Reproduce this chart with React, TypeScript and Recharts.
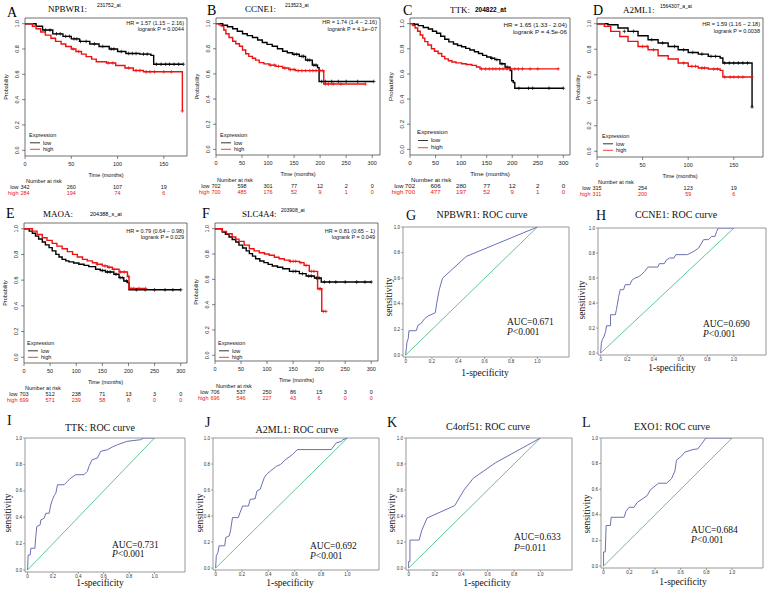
import React from "react";
import { ComposedChart, Line, Scatter, XAxis, YAxis, ReferenceArea } from "recharts";

type Pt = [number, number];

const SERIF = '"Liberation Serif", "Times New Roman", Times, serif';
const SANS = '"Liberation Sans", Arial, Helvetica, sans-serif';
const RED = "#ee1111";
const ROC_BLUE = "#6b70b4";
const ROC_GREEN = "#4fc08a";

// ---- shared ticks ----
const monthsShort = [0, 50, 100, 150];
const monthsLong = [0, 50, 100, 150, 200, 250, 300];
const probTicks = [0, 0.2, 0.4, 0.6, 0.8, 1];
const rocTicks = [0, 0.2, 0.4, 0.6, 0.8, 1];

// ---- A: NPBWR1 (time in months, survival) ----
const npbwr1Low: Pt[] = [[0, 1], [12, 0.98], [19, 0.95], [30, 0.92], [41, 0.9], [50, 0.88], [59, 0.86], [70, 0.84], [80, 0.82], [91, 0.8], [100, 0.78], [109, 0.765], [124, 0.76], [136, 0.75], [139, 0.68], [171, 0.68]];
const npbwr1High: Pt[] = [[0, 1], [8, 0.98], [12, 0.96], [17, 0.935], [22, 0.91], [28, 0.885], [33, 0.86], [39, 0.84], [44, 0.82], [50, 0.8], [55, 0.78], [61, 0.76], [66, 0.74], [72, 0.72], [77, 0.7], [88, 0.69], [98, 0.67], [108, 0.65], [117, 0.63], [128, 0.62], [170, 0.31]];
const npbwr1LowCens: Pt[] = [[22, 0.95], [27, 0.95], [34, 0.92], [38, 0.92], [44, 0.9], [48, 0.9], [53, 0.88], [56, 0.88], [60, 0.86], [66, 0.86], [75, 0.84], [84, 0.82], [93, 0.8], [96, 0.8], [104, 0.78], [112, 0.765], [116, 0.765], [120, 0.765], [128, 0.76], [132, 0.76], [142, 0.68], [147, 0.68], [152, 0.68], [156, 0.68], [161, 0.68], [166, 0.68], [171, 0.68]];
const npbwr1HighCens: Pt[] = [[52, 0.8], [58, 0.78], [90, 0.69], [95, 0.69], [112, 0.65], [120, 0.63], [124, 0.63], [131, 0.62], [135, 0.62], [140, 0.62], [150, 0.62], [158, 0.62], [170, 0.31]];
const npbwr1RiskLow = [342, 260, 107, 19];
const npbwr1RiskHigh = [284, 194, 74, 6];

// ---- B: CCNE1 ----
const ccne1Low: Pt[] = [[0, 1], [13, 0.987], [22, 0.975], [32, 0.96], [41, 0.94], [51, 0.92], [60, 0.905], [70, 0.89], [80, 0.87], [89, 0.85], [98, 0.835], [108, 0.82], [118, 0.8], [128, 0.78], [137, 0.768], [147, 0.756], [160, 0.74], [172, 0.71], [185, 0.67], [195, 0.65], [198, 0.54], [303, 0.54]];
const ccne1High: Pt[] = [[0, 1], [6, 0.99], [10, 0.98], [15, 0.95], [19, 0.92], [25, 0.89], [32, 0.86], [38, 0.84], [45, 0.82], [51, 0.79], [57, 0.76], [63, 0.74], [70, 0.725], [76, 0.71], [83, 0.69], [92, 0.68], [102, 0.67], [115, 0.66], [128, 0.647], [140, 0.635], [153, 0.626], [207, 0.52], [287, 0.52]];
const ccne1LowCens: Pt[] = [[150, 0.756], [155, 0.756], [165, 0.74], [168, 0.74], [176, 0.71], [180, 0.71], [188, 0.67], [192, 0.67], [203, 0.54], [210, 0.54], [222, 0.54], [235, 0.54], [250, 0.54], [272, 0.54], [303, 0.54]];
const ccne1HighCens: Pt[] = [[105, 0.67], [112, 0.67], [120, 0.66], [132, 0.647], [143, 0.635], [150, 0.635], [158, 0.626], [165, 0.626], [172, 0.626], [180, 0.626], [186, 0.626], [192, 0.626], [200, 0.626], [205, 0.626], [210, 0.52], [216, 0.52], [225, 0.52], [240, 0.52], [287, 0.52]];
const ccne1RiskLow = [702, 598, 301, 77, 12, 2, 0];
const ccne1RiskHigh = [700, 485, 176, 52, 9, 1, 0];

// ---- C: TTK ----
const ttkLow: Pt[] = [[0, 1], [8, 0.995], [16, 0.984], [26, 0.97], [36, 0.957], [44, 0.94], [52, 0.924], [60, 0.9], [68, 0.876], [76, 0.855], [85, 0.838], [93, 0.826], [101, 0.816], [109, 0.803], [117, 0.79], [126, 0.776], [134, 0.762], [142, 0.748], [150, 0.735], [158, 0.725], [166, 0.714], [176, 0.681], [186, 0.654], [196, 0.627], [199, 0.546], [202, 0.532], [205, 0.486], [300, 0.486]];
const ttkHigh: Pt[] = [[0, 1], [5, 0.985], [10, 0.965], [15, 0.94], [20, 0.91], [25, 0.885], [29, 0.857], [35, 0.83], [42, 0.8], [48, 0.78], [55, 0.762], [62, 0.74], [68, 0.72], [75, 0.705], [82, 0.695], [90, 0.688], [101, 0.681], [110, 0.675], [121, 0.668], [130, 0.655], [137, 0.64], [290, 0.64]];
const ttkLowCens: Pt[] = [[160, 0.725], [170, 0.714], [180, 0.681], [190, 0.654], [213, 0.486], [232, 0.486], [240, 0.486], [272, 0.486], [300, 0.486]];
const ttkHighCens: Pt[] = [[140, 0.64], [148, 0.64], [155, 0.64], [162, 0.64], [168, 0.64], [175, 0.64], [182, 0.64], [190, 0.64], [197, 0.64], [205, 0.64], [212, 0.64], [220, 0.64], [235, 0.64], [250, 0.64], [290, 0.64]];
const ttkRiskLow = [702, 606, 280, 77, 12, 2, 0];
const ttkRiskHigh = [700, 477, 197, 52, 9, 1, 0];

// ---- D: A2ML1 ----
const a2ml1Low: Pt[] = [[0, 1], [12, 0.992], [23, 0.966], [34, 0.94], [45, 0.906], [56, 0.875], [67, 0.849], [78, 0.822], [89, 0.796], [100, 0.775], [111, 0.762], [122, 0.744], [135, 0.731], [138, 0.692], [170, 0.347]];
const a2ml1High: Pt[] = [[0, 1], [8, 0.979], [15, 0.94], [25, 0.9], [34, 0.862], [45, 0.822], [56, 0.796], [67, 0.749], [78, 0.723], [89, 0.692], [100, 0.666], [111, 0.653], [122, 0.645], [135, 0.634], [138, 0.582], [170, 0.582]];
const a2ml1LowCens: Pt[] = [[30, 0.94], [40, 0.94], [60, 0.875], [72, 0.849], [85, 0.822], [95, 0.796], [105, 0.775], [115, 0.762], [125, 0.744], [130, 0.744], [140, 0.692], [145, 0.692], [150, 0.692], [155, 0.692], [160, 0.692], [165, 0.692], [170, 0.347]];
const a2ml1HighCens: Pt[] = [[50, 0.822], [55, 0.822], [62, 0.796], [95, 0.692], [104, 0.666], [108, 0.666], [115, 0.653], [118, 0.653], [128, 0.645], [132, 0.645], [140, 0.582], [146, 0.582], [150, 0.582], [155, 0.582], [160, 0.582], [170, 0.582]];
const a2ml1RiskLow = [315, 254, 123, 19];
const a2ml1RiskHigh = [311, 200, 59, 6];

// ---- E: MAOA ----
const maoaLow: Pt[] = [[0, 1], [10, 0.982], [16, 0.965], [22, 0.943], [28, 0.92], [35, 0.897], [41, 0.875], [48, 0.853], [54, 0.828], [61, 0.801], [67, 0.78], [73, 0.762], [80, 0.75], [86, 0.742], [95, 0.733], [105, 0.724], [115, 0.715], [124, 0.705], [137, 0.685], [146, 0.675], [156, 0.664], [172, 0.646], [182, 0.62], [191, 0.594], [198, 0.581], [201, 0.525], [300, 0.525]];
const maoaHigh: Pt[] = [[0, 1], [16, 0.982], [25, 0.955], [35, 0.93], [44, 0.91], [54, 0.886], [63, 0.865], [73, 0.845], [83, 0.822], [93, 0.801], [102, 0.78], [112, 0.762], [121, 0.75], [131, 0.736], [140, 0.724], [150, 0.711], [160, 0.7], [169, 0.685], [182, 0.664], [198, 0.628], [201, 0.535], [233, 0.535]];
const maoaLowCens: Pt[] = [[150, 0.675], [160, 0.664], [165, 0.664], [176, 0.646], [184, 0.62], [188, 0.62], [196, 0.594], [215, 0.525], [232, 0.525], [250, 0.525], [270, 0.525], [285, 0.525], [300, 0.525]];
const maoaHighCens: Pt[] = [[140, 0.724], [155, 0.711], [163, 0.7], [172, 0.685], [185, 0.664], [192, 0.664], [200, 0.628], [205, 0.535], [210, 0.535], [220, 0.535], [233, 0.535]];
const maoaRiskLow = [703, 512, 238, 71, 13, 3, 0];
const maoaRiskHigh = [699, 571, 239, 58, 8, 0, 0];

// ---- F: SLC4A4 ----
const slc4a4Low: Pt[] = [[0, 1], [14, 0.974], [20, 0.955], [27, 0.934], [33, 0.915], [40, 0.895], [46, 0.87], [53, 0.847], [60, 0.825], [66, 0.803], [72, 0.783], [78, 0.763], [86, 0.745], [94, 0.732], [102, 0.718], [110, 0.705], [120, 0.695], [130, 0.684], [143, 0.663], [162, 0.645], [175, 0.626], [191, 0.61], [204, 0.579], [300, 0.579]];
const slc4a4High: Pt[] = [[0, 1], [14, 0.979], [22, 0.96], [33, 0.934], [40, 0.918], [46, 0.9], [56, 0.87], [66, 0.842], [75, 0.825], [85, 0.81], [95, 0.8], [104, 0.79], [114, 0.775], [123, 0.763], [133, 0.752], [143, 0.742], [162, 0.732], [171, 0.71], [181, 0.663], [197, 0.526], [205, 0.347], [213, 0.347]];
const slc4a4LowCens: Pt[] = [[150, 0.663], [155, 0.663], [168, 0.645], [180, 0.626], [185, 0.626], [195, 0.61], [200, 0.61], [210, 0.579], [220, 0.579], [232, 0.579], [250, 0.579], [272, 0.579], [288, 0.579], [300, 0.579]];
const slc4a4HighCens: Pt[] = [[145, 0.742], [150, 0.742], [155, 0.742], [165, 0.732], [175, 0.71], [185, 0.663], [190, 0.663], [200, 0.526], [203, 0.526], [208, 0.347], [213, 0.347]];
const slc4a4RiskLow = [706, 537, 250, 86, 15, 3, 0];
const slc4a4RiskHigh = [696, 546, 227, 43, 6, 0, 0];

// ---- ROC curves: [1-specificity, sensitivity] ----
const rocNPBWR1: Pt[] = [[0, 0], [0.005, 0.05], [0.01, 0.1], [0.02, 0.13], [0.025, 0.19], [0.08, 0.19], [0.095, 0.235], [0.115, 0.245], [0.145, 0.285], [0.17, 0.305], [0.225, 0.33], [0.235, 0.4], [0.255, 0.51], [0.28, 0.6], [0.46, 0.77], [1, 1]];
const rocCCNE1: Pt[] = [[0, 0], [0.005, 0.08], [0.012, 0.107], [0.025, 0.133], [0.037, 0.173], [0.044, 0.219], [0.074, 0.219], [0.074, 0.307], [0.11, 0.307], [0.118, 0.347], [0.127, 0.4], [0.135, 0.453], [0.147, 0.507], [0.172, 0.507], [0.184, 0.547], [0.22, 0.547], [0.233, 0.581], [0.257, 0.6], [0.28, 0.608], [0.306, 0.627], [0.33, 0.653], [0.355, 0.688], [0.429, 0.688], [0.44, 0.715], [0.478, 0.715], [0.49, 0.741], [0.515, 0.76], [0.55, 0.76], [0.564, 0.787], [0.65, 0.787], [0.699, 0.813], [0.735, 0.84], [0.772, 0.907], [0.809, 0.907], [0.833, 0.933], [0.858, 0.933], [0.87, 0.973], [0.882, 1], [1, 1]];
const rocTTK: Pt[] = [[0, 0], [0.005, 0.114], [0.021, 0.114], [0.026, 0.165], [0.058, 0.165], [0.065, 0.253], [0.073, 0.329], [0.099, 0.342], [0.105, 0.38], [0.131, 0.392], [0.144, 0.43], [0.17, 0.43], [0.183, 0.494], [0.196, 0.532], [0.209, 0.562], [0.223, 0.582], [0.236, 0.646], [0.288, 0.646], [0.314, 0.671], [0.34, 0.696], [0.38, 0.722], [0.445, 0.722], [0.471, 0.747], [0.484, 0.785], [0.508, 0.835], [0.55, 0.848], [0.576, 0.899], [0.628, 0.911], [0.668, 0.932], [0.707, 0.949], [0.785, 0.975], [0.89, 0.987], [0.916, 1], [1, 1]];
const rocA2ML1: Pt[] = [[0, 0], [0.005, 0.094], [0.018, 0.12], [0.026, 0.171], [0.069, 0.171], [0.077, 0.235], [0.103, 0.247], [0.113, 0.286], [0.128, 0.388], [0.172, 0.388], [0.185, 0.426], [0.205, 0.477], [0.249, 0.477], [0.262, 0.528], [0.3, 0.533], [0.313, 0.592], [0.338, 0.605], [0.351, 0.643], [0.369, 0.694], [0.385, 0.719], [0.415, 0.745], [0.462, 0.783], [0.492, 0.796], [0.531, 0.834], [0.582, 0.872], [0.621, 0.911], [0.877, 0.911], [0.915, 0.962], [0.954, 0.974], [0.967, 0.987], [1, 1]];
const rocC4orf51: Pt[] = [[0, 0], [0, 0.05], [0.01, 0.05], [0.01, 0.215], [0.08, 0.215], [0.1, 0.29], [0.14, 0.385], [0.35, 0.48], [0.42, 0.6], [0.49, 0.69], [0.66, 0.81], [1, 1]];
const rocEXO1: Pt[] = [[0, 0], [0, 0.11], [0.013, 0.11], [0.02, 0.317], [0.053, 0.317], [0.059, 0.381], [0.16, 0.381], [0.173, 0.425], [0.198, 0.459], [0.237, 0.459], [0.262, 0.497], [0.3, 0.523], [0.338, 0.549], [0.364, 0.595], [0.427, 0.647], [0.491, 0.647], [0.529, 0.683], [0.555, 0.742], [0.567, 0.827], [0.606, 0.858], [0.631, 0.889], [0.695, 0.91], [0.733, 0.915], [0.758, 0.948], [0.796, 1], [1, 1]];
const rocChance: Pt[] = [[0, 0], [1, 1]];

const KM_Y: [number, number] = [-0.045, 1.045];
const ROC_X: [number, number] = [-0.02, 1.24];
const ROC_Y: [number, number] = [-0.015, 1];
const TOP = 5; // headroom above each plot box for the top tick label

const toRows = (pts: Pt[]) => pts.map(([t, s]) => ({ t, s }));

function Plus(props: any) {
  const { cx, cy, fill } = props;
  if (cx == null || cy == null) return null;
  return <path d={`M${cx - 1.8},${cy}h3.6M${cx},${cy - 1.8}v3.6`} stroke={fill} strokeWidth={0.7} fill="none" />;
}

function Overlay({ children }: { children: React.ReactNode }) {
  return (
    <svg width={768} height={591} style={{ position: "absolute", left: 0, top: 0, pointerEvents: "none" }}>
      {children}
    </svg>
  );
}

interface KMCfg {
  box: [number, number, number, number];
  xMax: number;
  ticks: number[];
  low: Pt[];
  high: Pt[];
  lowCens: Pt[];
  highCens: Pt[];
  riskLow: number[];
  riskHigh: number[];
  letter: string;
  letterPos: Pt;
  gene: string;
  genePos: Pt;
  probe: string;
  probePos: Pt;
  probeSize: number;
  probeBold?: boolean;
  hr: string;
  logrank: string;
  hrY: Pt;
  legendPos: Pt;
  fs: number;
}

function KMPanel({ c }: { c: KMCfg }) {
  const [L, T, W, H] = c.box;
  const YW = 30;
  const XH = 46;
  const R = L + W;
  const B = T + H;
  const fs = c.fs;
  const base = TOP + H; // plot bottom inside the chart svg

  const xTick = (props: any) => {
    const { x, payload } = props;
    const i = c.ticks.indexOf(payload.value);
    return (
      <g fontFamily={SANS} fontSize={fs}>
        <text x={x} y={base + 10} textAnchor="middle" fill="#222">{payload.value}</text>
        <text x={x} y={base + 33} textAnchor="middle" fill="#111">{c.riskLow[i]}</text>
        <text x={x} y={base + 39} textAnchor="middle" fill={RED}>{c.riskHigh[i]}</text>
        {i === 0 && (
          <>
            <text x={x + 1} y={base + 27} fill="#111">Number at risk</text>
            <text x={x - 6.5} y={base + 33} textAnchor="end" fill="#111">low</text>
            <text x={x - 6.5} y={base + 39} textAnchor="end" fill={RED}>high</text>
          </>
        )}
      </g>
    );
  };

  const yTick = (props: any) => {
    const { x, y, payload } = props;
    return (
      <text x={x} y={y} transform={`rotate(-90 ${x} ${y})`} textAnchor="middle" fontFamily={SANS} fontSize={fs} fill="#222">
        {Number(payload.value).toFixed(1)}
      </text>
    );
  };

  const [lx, ly] = c.legendPos;

  return (
    <>
      <div style={{ position: "absolute", left: L - YW, top: T - TOP }}>
        <ComposedChart width={W + YW + 2} height={H + XH + TOP} margin={{ top: TOP, right: 2, bottom: 0, left: 0 }}>
          <XAxis
            type="number"
            dataKey="t"
            domain={[0, c.xMax]}
            ticks={c.ticks}
            interval={0}
            allowDataOverflow
            axisLine={false}
            tickSize={3}
            tickLine={{ stroke: "#333", strokeWidth: 0.6 }}
            tick={xTick}
            height={XH}
          />
          <YAxis
            type="number"
            dataKey="s"
            domain={KM_Y}
            ticks={probTicks}
            interval={0}
            allowDataOverflow
            axisLine={false}
            tickSize={3}
            tickMargin={3}
            tickLine={{ stroke: "#333", strokeWidth: 0.6 }}
            tick={yTick}
            width={YW}
          />
          <ReferenceArea x1={0} x2={c.xMax} y1={KM_Y[0]} y2={KM_Y[1]} fill="none" stroke="#333" strokeWidth={0.7} ifOverflow="visible" />
          <Line data={toRows(c.low)} dataKey="s" type="stepAfter" stroke="#000" strokeWidth={1.4} dot={false} isAnimationActive={false} />
          <Line data={toRows(c.high)} dataKey="s" type="stepAfter" stroke={RED} strokeWidth={1.4} dot={false} isAnimationActive={false} />
          <Scatter data={toRows(c.lowCens)} fill="#000" shape={Plus} isAnimationActive={false} />
          <Scatter data={toRows(c.highCens)} fill={RED} shape={Plus} isAnimationActive={false} />
        </ComposedChart>
      </div>
      <Overlay>
        <text x={c.letterPos[0]} y={c.letterPos[1]} fontFamily={SERIF} fontSize={14}>{c.letter}</text>
        <text x={c.genePos[0]} y={c.genePos[1]} fontFamily={SERIF} fontSize={9}>{c.gene}</text>
        <text x={c.probePos[0]} y={c.probePos[1]} fontFamily={SANS} fontSize={c.probeSize} fontWeight={c.probeBold ? "bold" : "normal"}>{c.probe}</text>
        <g fontFamily={SANS} fontSize={fs} fill="#111">
          <text x={R - 3} y={c.hrY[0]} textAnchor="end">{c.hr}</text>
          <text x={R - 3} y={c.hrY[1]} textAnchor="end">{c.logrank}</text>
          <text x={L - 17} y={T + H / 2} transform={`rotate(-90 ${L - 17} ${T + H / 2})`} textAnchor="middle">Probability</text>
          <text x={L + W / 2} y={B + 21} textAnchor="middle">Time (months)</text>
          <text x={lx} y={ly}>Expression</text>
          <line x1={lx + 1} x2={lx + 11} y1={ly + fs + 0.3} y2={ly + fs + 0.3} stroke="#000" strokeWidth={0.8} />
          <text x={lx + 14} y={ly + fs + 2}>low</text>
          <line x1={lx + 1} x2={lx + 11} y1={ly + 2 * fs + 1.3} y2={ly + 2 * fs + 1.3} stroke={RED} strokeWidth={0.8} />
          <text x={lx + 14} y={ly + 2 * fs + 3}>high</text>
        </g>
      </Overlay>
    </>
  );
}

interface ROCCfg {
  box: [number, number, number, number];
  curve: Pt[];
  letter: string;
  letterPos: Pt;
  title: string;
  titlePos: Pt;
  auc: string;
  pText: string;
  aucPos: [number, number, number];
  sensPos: Pt;
  specPos: Pt;
}

function ROCPanel({ c }: { c: ROCCfg }) {
  const [L, T, W, H] = c.box;
  const YW = 20;
  const XH = 12;
  return (
    <>
      <div style={{ position: "absolute", left: L - YW, top: T - TOP }}>
        <ComposedChart width={W + YW + 2} height={H + XH + TOP} margin={{ top: TOP, right: 2, bottom: 0, left: 0 }}>
          <XAxis
            type="number"
            dataKey="t"
            domain={ROC_X}
            ticks={rocTicks}
            interval={0}
            allowDataOverflow
            axisLine={false}
            tickSize={2}
            tickMargin={1}
            tickLine={{ stroke: "#555", strokeWidth: 0.5 }}
            tick={{ fontSize: 4.5, fontFamily: SANS, fill: "#333" }}
            tickFormatter={(v: number) => (v === 0 ? "0" : v.toFixed(1))}
            height={XH}
          />
          <YAxis
            type="number"
            dataKey="s"
            domain={ROC_Y}
            ticks={rocTicks}
            interval={0}
            allowDataOverflow
            axisLine={false}
            tickSize={2}
            tickMargin={1}
            tickLine={{ stroke: "#555", strokeWidth: 0.5 }}
            tick={{ fontSize: 4.5, fontFamily: SANS, fill: "#333" }}
            tickFormatter={(v: number) => v.toFixed(1)}
            width={YW}
          />
          <ReferenceArea x1={ROC_X[0]} x2={ROC_X[1]} y1={ROC_Y[0]} y2={ROC_Y[1]} fill="none" stroke="#8c8c8c" strokeWidth={0.9} ifOverflow="visible" />
          <Line data={toRows(rocChance)} dataKey="s" type="linear" stroke={ROC_GREEN} strokeWidth={0.9} dot={false} isAnimationActive={false} />
          <Line data={toRows(c.curve)} dataKey="s" type="linear" stroke={ROC_BLUE} strokeWidth={1} dot={false} isAnimationActive={false} />
        </ComposedChart>
      </div>
      <Overlay>
        <g fontFamily={SERIF} fill="#111">
          <text x={c.letterPos[0]} y={c.letterPos[1]} fontSize={14}>{c.letter}</text>
          <text x={c.titlePos[0]} y={c.titlePos[1]} fontSize={10} textAnchor="middle">{c.title}</text>
          <text x={c.sensPos[0]} y={c.sensPos[1]} fontSize={9.5} textAnchor="middle" transform={`rotate(-90 ${c.sensPos[0]} ${c.sensPos[1]})`}>sensitivity</text>
          <text x={c.specPos[0]} y={c.specPos[1]} fontSize={9.5} textAnchor="middle">1-specificity</text>
          <text x={c.aucPos[0]} y={c.aucPos[1]} fontSize={9.5}>{c.auc}</text>
          <text x={c.aucPos[0]} y={c.aucPos[2]} fontSize={9.5}>
            <tspan fontStyle="italic">P</tspan>
            {c.pText}
          </text>
        </g>
      </Overlay>
    </>
  );
}

const kmPanels: KMCfg[] = [
  {
    box: [25, 18, 162, 138], xMax: 175, ticks: monthsShort,
    low: npbwr1Low, high: npbwr1High, lowCens: npbwr1LowCens, highCens: npbwr1HighCens,
    riskLow: npbwr1RiskLow, riskHigh: npbwr1RiskHigh,
    letter: "A", letterPos: [7, 17], gene: "NPBWR1:", genePos: [48, 12], probe: "231752_at", probePos: [97, 7], probeSize: 5,
    hr: "HR = 1.57 (1.15 − 2.16)", logrank: "logrank P = 0.0044", hrY: [25, 31], legendPos: [29, 137], fs: 5.5,
  },
  {
    box: [216, 18, 164, 137], xMax: 315, ticks: monthsLong,
    low: ccne1Low, high: ccne1High, lowCens: ccne1LowCens, highCens: ccne1HighCens,
    riskLow: ccne1RiskLow, riskHigh: ccne1RiskHigh,
    letter: "B", letterPos: [207, 15], gene: "CCNE1:", genePos: [245, 12], probe: "213523_at", probePos: [285, 7], probeSize: 5,
    hr: "HR = 1.74 (1.4 − 2.16)", logrank: "logrank P = 4.1e−07", hrY: [24, 31], legendPos: [220, 137], fs: 5.5,
  },
  {
    box: [410, 18, 160, 137], xMax: 313, ticks: monthsLong,
    low: ttkLow, high: ttkHigh, lowCens: ttkLowCens, highCens: ttkHighCens,
    riskLow: ttkRiskLow, riskHigh: ttkRiskHigh,
    letter: "C", letterPos: [403, 15], gene: "TTK:", genePos: [450, 13], probe: "204822_at", probePos: [475, 12], probeSize: 6.5, probeBold: true,
    hr: "HR = 1.65 (1.33 - 2.04)", logrank: "logrank P = 4.5e-06", hrY: [27, 34], legendPos: [417, 134], fs: 6.2,
  },
  {
    box: [597, 18, 166, 139], xMax: 182, ticks: monthsShort,
    low: a2ml1Low, high: a2ml1High, lowCens: a2ml1LowCens, highCens: a2ml1HighCens,
    riskLow: a2ml1RiskLow, riskHigh: a2ml1RiskHigh,
    letter: "D", letterPos: [593, 15], gene: "A2ML1:", genePos: [623, 13], probe: "1564307_a_at", probePos: [660, 8], probeSize: 5,
    hr: "HR = 1.59 (1.16 − 2.18)", logrank: "logrank P = 0.0038", hrY: [26, 33], legendPos: [602, 138], fs: 5.5,
  },
  {
    box: [24, 223, 163, 140], xMax: 312, ticks: monthsLong,
    low: maoaLow, high: maoaHigh, lowCens: maoaLowCens, highCens: maoaHighCens,
    riskLow: maoaRiskLow, riskHigh: maoaRiskHigh,
    letter: "E", letterPos: [6, 218], gene: "MAOA:", genePos: [43, 217], probe: "204388_s_at", probePos: [90, 216], probeSize: 5.5,
    hr: "HR = 0.79 (0.64 − 0.98)", logrank: "logrank P = 0.029", hrY: [233, 239], legendPos: [27, 345], fs: 5.5,
  },
  {
    box: [215, 223, 163, 138], xMax: 313, ticks: monthsLong,
    low: slc4a4Low, high: slc4a4High, lowCens: slc4a4LowCens, highCens: slc4a4HighCens,
    riskLow: slc4a4RiskLow, riskHigh: slc4a4RiskHigh,
    letter: "F", letterPos: [202, 218], gene: "SLC4A4:", genePos: [242, 217], probe: "203908_at", probePos: [281, 212], probeSize: 5,
    hr: "HR = 0.81 (0.65 − 1)", logrank: "logrank P = 0.049", hrY: [233, 239], legendPos: [218, 345], fs: 5.5,
  },
];

const rocPanels: ROCCfg[] = [
  { box: [403, 227, 166, 130], curve: rocNPBWR1, letter: "G", letterPos: [406, 220], title: "NPBWR1: ROC curve", titlePos: [482, 218], auc: "AUC=0.671", pText: "<0.001", aucPos: [507, 325, 335], sensPos: [392, 297], specPos: [485, 376] },
  { box: [598, 228, 168, 127], curve: rocCCNE1, letter: "H", letterPos: [596, 220], title: "CCNE1: ROC curve", titlePos: [676, 218], auc: "AUC=0.690", pText: "<0.001", aucPos: [703, 327, 337], sensPos: [585, 300], specPos: [672, 371] },
  { box: [25, 438, 160, 134], curve: rocTTK, letter: "I", letterPos: [7, 425], title: "TTK: ROC curve", titlePos: [100, 431], auc: "AUC=0.731", pText: "<0.001", aucPos: [112, 548, 557], sensPos: [11, 513], specPos: [100, 586] },
  { box: [213, 438, 166, 132], curve: rocA2ML1, letter: "J", letterPos: [205, 427], title: "A2ML1: ROC curve", titlePos: [297, 433], auc: "AUC=0.692", pText: "<0.001", aucPos: [310, 549, 559], sensPos: [203, 513], specPos: [290, 586] },
  { box: [406, 438, 166, 132], curve: rocC4orf51, letter: "K", letterPos: [387, 427], title: "C4orf51: ROC curve", titlePos: [488, 430], auc: "AUC=0.633", pText: "=0.011", aucPos: [514, 540, 551], sensPos: [395, 513], specPos: [487, 586] },
  { box: [601, 438, 162, 130], curve: rocEXO1, letter: "L", letterPos: [582, 427], title: "EXO1: ROC curve", titlePos: [672, 430], auc: "AUC=0.684", pText: "<0.001", aucPos: [691, 533, 543], sensPos: [590, 514], specPos: [683, 585] },
];

export default function App() {
  return (
    <div style={{ position: "absolute", left: 0, top: 0, width: 768, height: 591, background: "#fff", overflow: "hidden" }}>
      {kmPanels.map((c) => (
        <KMPanel key={c.letter} c={c} />
      ))}
      {rocPanels.map((c) => (
        <ROCPanel key={c.letter} c={c} />
      ))}
    </div>
  );
}
